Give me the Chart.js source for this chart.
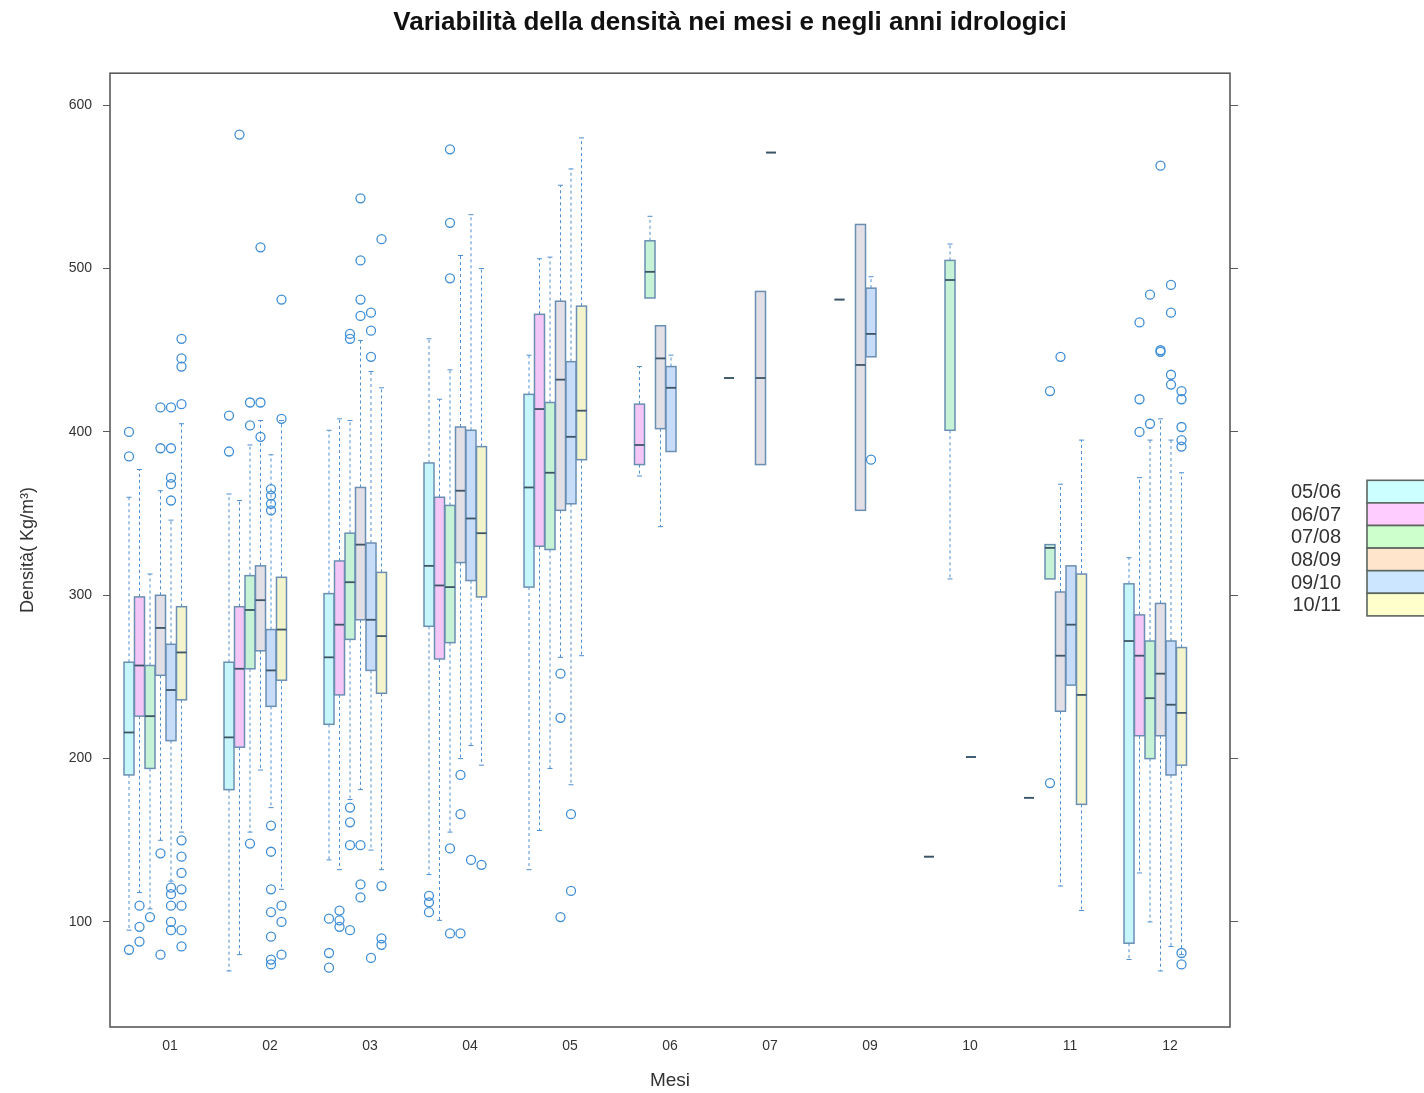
<!DOCTYPE html>
<html>
<head>
<meta charset="utf-8">
<title>Densità nei mesi e negli anni idrologici</title>
<script src="https://cdn.jsdelivr.net/npm/chart.js@4.4.1/dist/chart.umd.min.js"></script>
<style>
  html, body { margin: 0; padding: 0; background: #fff; overflow: hidden; }
  #wrap { width: 1460px; height: 1093px; }
</style>
</head>
<body>
<div id="wrap"><canvas id="densChart" width="1460" height="1093"></canvas></div>
<script>
// Mesi (08 has no data) and hydrological years
const months = ['01', '02', '03', '04', '05', '06', '07', '09', '10', '11', '12'];
const years = ['05/06', '06/07', '07/08', '08/09', '09/10', '10/11'];
const yTicks = [100, 200, 300, 400, 500, 600];

// per month: [whisker low, Q1, median, Q3, whisker high], null = no samples
const stats0506 = [
  [95, 190, 216, 259, 360], [70, 181, 213, 259, 362], [138, 221, 262, 301, 401],
  [129, 281, 318, 381, 457], [132, 305, 366, 423, 447], null,
  [433, 433, 433, 433, 433], null, [140, 140, 140, 140, 140],
  [176, 176, 176, 176, 176], [77, 87, 272, 307, 323]
];
const stats0607 = [
  [118, 226, 257, 299, 377], [80, 207, 255, 293, 358], [132, 239, 282, 321, 408],
  [101, 261, 306, 360, 420], [156, 330, 414, 472, 506], [373, 380, 392, 417, 440],
  null, [481, 481, 481, 481, 481], null,
  null, [130, 214, 263, 288, 372]
];
const stats0708 = [
  [108, 194, 226, 257, 313], [155, 255, 291, 312, 392], [175, 273, 308, 338, 407],
  [155, 271, 305, 355, 438], [194, 328, 375, 418, 507], [482, 482, 498, 517, 532],
  null, null, [310, 401, 493, 505, 515],
  [310, 310, 329, 331, 331], [100, 200, 237, 272, 395]
];
const stats0809 = [
  [150, 251, 280, 300, 364], [193, 266, 297, 318, 407], [181, 285, 331, 366, 456],
  [200, 320, 364, 403, 508], [262, 352, 432, 480, 551], [342, 402, 445, 465, 465],
  [380, 380, 433, 486, 486], [352, 352, 441, 527, 527], null,
  [122, 229, 263, 302, 368], [70, 214, 252, 295, 408]
];
const stats0910 = [
  [125, 211, 242, 270, 346], [170, 232, 254, 279, 386], [144, 254, 285, 332, 437],
  [208, 309, 347, 401, 533], [184, 356, 397, 443, 561], [388, 388, 427, 440, 447],
  [571, 571, 571, 571, 571], [446, 446, 460, 488, 495], [201, 201, 201, 201, 201],
  [245, 245, 282, 318, 318], [85, 190, 233, 272, 395]
];
const stats1011 = [
  [155, 236, 265, 293, 405], [120, 248, 279, 311, 407], [132, 240, 275, 314, 427],
  [196, 299, 338, 391, 500], [263, 383, 413, 477, 580], null,
  null, null, null,
  [107, 172, 239, 313, 395], [80, 196, 228, 268, 375]
];

// outliers as [month index, density]
const out0506 = [[0, 400], [0, 385], [0, 83], [1, 410], [1, 388], [2, 102], [2, 81], [2, 72],
  [3, 116], [3, 112], [3, 106]];
const out0607 = [[0, 110], [0, 97], [0, 88], [1, 582], [2, 107], [2, 101], [2, 97],
  [10, 467], [10, 420], [10, 400]];
const out0708 = [[0, 103], [1, 418], [1, 404], [1, 148], [2, 460], [2, 457], [2, 170], [2, 161],
  [2, 147], [2, 95], [3, 573], [3, 528], [3, 494], [3, 145], [3, 93], [9, 425], [9, 185],
  [10, 484], [10, 405]];
const out0809 = [[0, 415], [0, 390], [0, 142], [0, 80], [1, 513], [1, 418], [1, 397],
  [2, 543], [2, 505], [2, 481], [2, 471], [2, 147], [2, 123], [2, 115], [3, 190], [3, 166],
  [3, 93], [4, 252], [4, 225], [4, 103], [9, 446], [10, 563], [10, 450], [10, 449]];
const out0910 = [[0, 415], [0, 390], [0, 372], [0, 368], [0, 358], [0, 121], [0, 117],
  [0, 110], [0, 100], [0, 95], [1, 365], [1, 361], [1, 356], [1, 352], [1, 159], [1, 143],
  [1, 120], [1, 106], [1, 91], [1, 77], [1, 74], [2, 473], [2, 462], [2, 446], [2, 78],
  [3, 138], [4, 166], [4, 119], [7, 383], [10, 490], [10, 473], [10, 435], [10, 429]];
const out1011 = [[0, 457], [0, 445], [0, 440], [0, 417], [0, 150], [0, 140], [0, 130],
  [0, 120], [0, 110], [0, 95], [0, 85], [1, 481], [1, 408], [1, 110], [1, 100], [1, 80],
  [2, 518], [2, 122], [2, 90], [2, 86], [3, 135], [10, 425], [10, 420], [10, 403],
  [10, 395], [10, 391], [10, 81], [10, 74]];

const statsByYear = [stats0506, stats0607, stats0708, stats0809, stats0910, stats1011];
const outByYear = [out0506, out0607, out0708, out0809, out0910, out1011];

// drawing styles
const boxOffsets = [-0.41, -0.305, -0.2, -0.095, 0.01, 0.115];
const boxWidth = 0.1;
const keyFills = ['#ccffff', '#ffccff', '#ccffcc', '#ffe5cc', '#cce6ff', '#ffffcc'];
const boxFills = ['#c6f6fa', '#f3c6f6', '#c6f3d6', '#e2dfe6', '#c6dcf8', '#f4f4cc'];
const boxBorder = '#6b8fb3';
const medianColor = '#3d5566';
const whiskerColor = '#4f8fd0';
const pointColor = '#3f8ed6';
const frameColor = '#5a5a5a';
const fontFamily = "'Liberation Sans', Arial, sans-serif";

// boxes, whiskers and medians, placed through the chart scales
const boxPlot = {
  id: 'boxPlot',
  beforeDatasetsDraw(chart) {
    const { ctx, scales: { x, y } } = chart;
    const half = (x.getPixelForValue(boxWidth) - x.getPixelForValue(0)) / 2;
    ctx.save();
    statsByYear.forEach((stats, j) => {
      stats.forEach((s, i) => {
        if (!s) return;
        const cx = x.getPixelForValue(i + boxOffsets[j]);
        const [lo, q1, med, q3, hi] = s.map(v => y.getPixelForValue(v));

        ctx.strokeStyle = whiskerColor;
        ctx.lineWidth = 1;
        ctx.setLineDash([3, 3]);
        ctx.beginPath();
        if (hi < q3) { ctx.moveTo(cx, q3); ctx.lineTo(cx, hi); }
        if (lo > q1) { ctx.moveTo(cx, q1); ctx.lineTo(cx, lo); }
        ctx.stroke();
        ctx.setLineDash([]);
        ctx.beginPath();
        if (hi < q3) { ctx.moveTo(cx - 2.5, hi); ctx.lineTo(cx + 2.5, hi); }
        if (lo > q1) { ctx.moveTo(cx - 2.5, lo); ctx.lineTo(cx + 2.5, lo); }
        ctx.stroke();

        ctx.fillStyle = boxFills[j];
        ctx.fillRect(cx - half, q3, half * 2, q1 - q3);
        ctx.strokeStyle = boxBorder;
        ctx.lineWidth = 1.5;
        ctx.strokeRect(cx - half, q3, half * 2, q1 - q3);

        ctx.strokeStyle = medianColor;
        ctx.lineWidth = 1.8;
        ctx.beginPath();
        ctx.moveTo(cx - half, med);
        ctx.lineTo(cx + half, med);
        ctx.stroke();
      });
    });
    ctx.restore();
  }
};

// panel frame and year key on the right
const frameAndKey = {
  id: 'frameAndKey',
  afterDraw(chart) {
    const { ctx, chartArea: a } = chart;
    ctx.save();
    ctx.strokeStyle = frameColor;
    ctx.lineWidth = 1.6;
    ctx.strokeRect(a.left, a.top, a.right - a.left, a.bottom - a.top);

    const rowH = 22.6;
    const top = (a.top + a.bottom) / 2 - rowH * years.length / 2 - 2;
    const boxLeft = a.right + 137;
    ctx.font = '20px ' + fontFamily;
    ctx.textAlign = 'right';
    ctx.textBaseline = 'middle';
    years.forEach((lab, k) => {
      const yy = top + k * rowH;
      ctx.fillStyle = keyFills[k];
      ctx.fillRect(boxLeft, yy, 120, rowH);
      ctx.strokeStyle = '#5c6660';
      ctx.lineWidth = 1.6;
      ctx.strokeRect(boxLeft, yy, 120, rowH);
      ctx.fillStyle = '#333';
      ctx.fillText(lab, boxLeft - 26, yy + rowH / 2 + 1);
    });
    ctx.restore();
  }
};

const yMin = 35.7;
const yMax = 619.6;

new Chart(document.getElementById('densChart'), {
  type: 'scatter',
  data: {
    datasets: outByYear.map((pts, j) => ({
      label: years[j],
      data: pts.map(([m, v]) => ({ x: m + boxOffsets[j], y: v })),
      pointStyle: 'circle',
      pointRadius: 4.5,
      pointHoverRadius: 4.5,
      borderColor: pointColor,
      backgroundColor: 'rgba(0,0,0,0)',
      borderWidth: 1.3
    }))
  },
  options: {
    responsive: false,
    animation: false,
    layout: { padding: 0 },
    plugins: {
      legend: { display: false },
      tooltip: { enabled: false },
      title: {
        display: true,
        text: 'Variabilità della densità nei mesi e negli anni idrologici',
        color: '#111',
        font: { family: fontFamily, size: 26, weight: 'bold' },
        padding: { top: 7, bottom: 35 }
      }
    },
    scales: {
      x: {
        type: 'linear',
        min: -0.6,
        max: 10.6,
        afterBuildTicks: s => { s.ticks = months.map((m, i) => ({ value: i })); },
        afterFit: s => { s.height = 66; },
        ticks: {
          callback: v => months[v],
          color: '#333',
          padding: 3,
          maxRotation: 0,
          font: { family: fontFamily, size: 14 }
        },
        grid: { drawOnChartArea: false, drawTicks: true, tickLength: 8, color: 'rgba(0,0,0,0)' },
        border: { display: false },
        title: {
          display: true,
          text: 'Mesi',
          color: '#333',
          font: { family: fontFamily, size: 19 },
          padding: { top: 0, bottom: 1 }
        }
      },
      y: {
        min: yMin,
        max: yMax,
        afterBuildTicks: s => { s.ticks = yTicks.map(v => ({ value: v })); },
        afterFit: s => { s.width = 110; },
        ticks: { color: '#333', padding: 11, font: { family: fontFamily, size: 14 } },
        grid: { drawOnChartArea: false, drawTicks: true, tickLength: 7, color: frameColor },
        border: { display: false },
        title: {
          display: true,
          text: 'Densità( Kg/m³)',
          color: '#333',
          font: { family: fontFamily, size: 18 },
          padding: { top: 17, bottom: 0 }
        }
      },
      y2: {
        position: 'right',
        min: yMin,
        max: yMax,
        afterBuildTicks: s => { s.ticks = yTicks.map(v => ({ value: v })); },
        afterFit: s => { s.width = 230; },
        ticks: { display: false },
        grid: { drawOnChartArea: false, drawTicks: true, tickLength: 8, color: frameColor },
        border: { display: false }
      }
    }
  },
  plugins: [boxPlot, frameAndKey]
});
</script>
</body>
</html>
